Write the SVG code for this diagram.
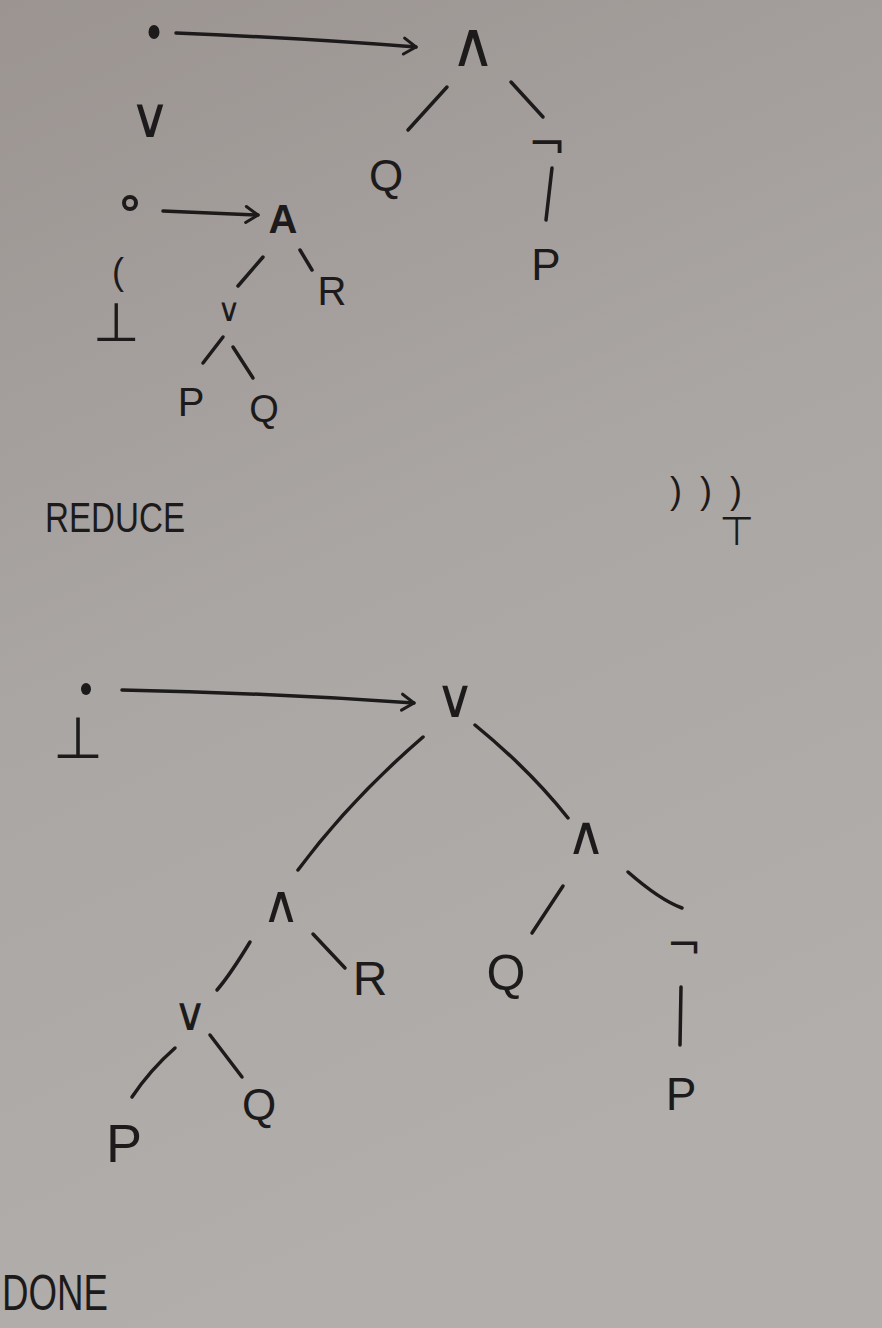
<svg xmlns="http://www.w3.org/2000/svg" width="882" height="1328" viewBox="0 0 882 1328">
<defs>
<linearGradient id="paper" x1="0" y1="0" x2="0.3" y2="1">
<stop offset="0" stop-color="#9b9491"/>
<stop offset="0.5" stop-color="#aaa6a4"/>
<stop offset="1" stop-color="#b2aeab"/>
</linearGradient>
<marker id="arr" viewBox="0 0 20 20" refX="16" refY="10" markerWidth="20" markerHeight="20" markerUnits="userSpaceOnUse" orient="auto">
<path d="M4,2 L16,10 L4,18" fill="none" stroke="#1c1a1a" stroke-width="3" stroke-linecap="round" stroke-linejoin="round"/>
</marker>
<style>
.t{font-family:"DejaVu Sans","Liberation Sans",sans-serif;fill:#1c1a1a;text-anchor:middle}
.l{font-family:"Liberation Sans","DejaVu Sans",sans-serif;fill:#1c1a1a;text-anchor:middle}
.s{font-family:"Liberation Sans","DejaVu Sans",sans-serif;fill:#1c1a1a;text-anchor:start}
.e{stroke:#1c1a1a;stroke-width:3.5;stroke-linecap:round;fill:none}
.d{fill:#1c1a1a}
</style>
</defs>
<rect width="882" height="1328" fill="url(#paper)"/>

<g id="connectors">
<path class="e" d="M176,33 Q300,38 416,47" marker-end="url(#arr)"/>
<line class="e" x1="447" y1="87" x2="408" y2="130"/>
<line class="e" x1="511" y1="82" x2="543" y2="117"/>
<line class="e" x1="552" y1="168" x2="546" y2="220"/>
<path class="e" d="M163,211 L258,215" marker-end="url(#arr)"/>
<line class="e" x1="263" y1="257" x2="238" y2="286"/>
<line class="e" x1="300" y1="250" x2="312" y2="270"/>
<line class="e" x1="223" y1="337" x2="203" y2="363"/>
<line class="e" x1="233" y1="347" x2="253" y2="378"/>
<path class="e" d="M122,690 Q270,693 414,703" marker-end="url(#arr)"/>
<path class="e" d="M423,737 Q350,800 298,870"/>
<path class="e" d="M475,725 Q530,770 568,818"/>
<path class="e" d="M250,942 Q230,975 217,990"/>
<line class="e" x1="313" y1="934" x2="345" y2="968"/>
<path class="e" d="M175,1048 Q150,1070 132,1097"/>
<line class="e" x1="210" y1="1035" x2="242" y2="1077"/>
<line class="e" x1="563" y1="886" x2="532" y2="933"/>
<path class="e" d="M628,872 Q660,900 682,908"/>
<line class="e" x1="681" y1="987" x2="680" y2="1045"/>
</g>

<g id="dot1"><ellipse class="d" cx="154" cy="32" rx="5.5" ry="7"/></g>
<g id="and1"><text class="t" x="473" y="66" font-size="62">∧</text></g>
<g id="q1"><text class="l" x="386" y="191" font-size="44">Q</text></g>
<g id="neg1"><text class="t" x="547" y="160" font-size="46">¬</text></g>
<g id="p1"><text class="l" x="546" y="280" font-size="44">P</text></g>
<g id="or1"><text class="t" x="150" y="137" font-size="56">∨</text></g>
<g id="dot2"><circle cx="130" cy="203" r="6" fill="none" stroke="#1c1a1a" stroke-width="4"/></g>
<g id="a1"><text class="l" x="283" y="233" font-size="40" font-weight="bold">A</text></g>
<g id="paren"><text class="l" x="118" y="284" font-size="36">(</text></g>
<g id="bot1"><text class="t" x="116" y="341" font-size="54">⊥</text></g>
<g id="r1"><text class="l" x="332" y="305" font-size="40">R</text></g>
<g id="or2"><text class="t" x="229" y="321" font-size="32">∨</text></g>
<g id="p2"><text class="l" x="191" y="416" font-size="40">P</text></g>
<g id="q2"><text class="l" x="264" y="422" font-size="38">Q</text></g>

<g id="reduce"><text class="s" x="45" y="532" font-size="42" textLength="140" lengthAdjust="spacingAndGlyphs">REDUCE</text></g>
<g id="parens"><text class="s" x="670" y="503" font-size="36" textLength="72" lengthAdjust="spacing">)))</text></g>
<g id="top"><text class="t" x="737" y="545" font-size="40">⊤</text></g>

<g id="dot3"><ellipse class="d" cx="86" cy="689" rx="5" ry="6"/></g>
<g id="bot2"><text class="t" x="78" y="758" font-size="58">⊥</text></g>
<g id="or3"><text class="t" x="455" y="717" font-size="54">∨</text></g>
<g id="and2"><text class="t" x="281" y="922" font-size="52">∧</text></g>
<g id="r2"><text class="l" x="370" y="995" font-size="48">R</text></g>
<g id="or4"><text class="t" x="190" y="1030" font-size="46">∨</text></g>
<g id="p3"><text class="l" x="124" y="1162" font-size="54">P</text></g>
<g id="q3"><text class="l" x="259" y="1120" font-size="44">Q</text></g>
<g id="and3"><text class="t" x="586" y="854" font-size="54">∧</text></g>
<g id="q4"><text class="l" x="506" y="990" font-size="50">Q</text></g>
<g id="neg2"><text class="t" x="684" y="959" font-size="42">¬</text></g>
<g id="p4"><text class="l" x="681" y="1110" font-size="46">P</text></g>
<g id="done"><text class="s" x="2" y="1310" font-size="50" textLength="106" lengthAdjust="spacingAndGlyphs">DONE</text></g>
</svg>
